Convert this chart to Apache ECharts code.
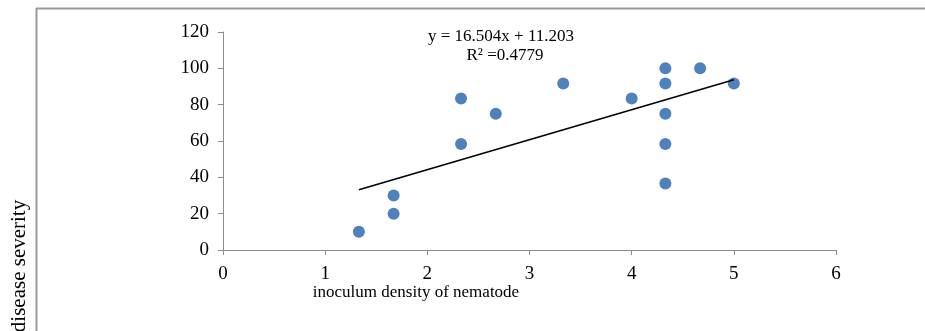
<!DOCTYPE html>
<html>
<head>
<meta charset="utf-8">
<script src="https://cdn.jsdelivr.net/npm/echarts@6/dist/echarts.min.js"></script>
<style>
html,body{margin:0;padding:0;background:#fff;}
#chart{width:925px;height:331px;}
</style>
</head>
<body>
<div id="chart"></div>
<script>
// Data
var densityX = [1.33, 1.67, 1.67, 2.33, 2.33, 2.67, 3.33, 4, 4.33, 4.33, 4.33, 4.33, 4.33, 4.67, 5];
var severityY = [10, 30, 20, 83.33, 58.33, 75, 91.67, 83.33, 100, 91.67, 75, 58.33, 36.67, 100, 91.67];
var xTicks = [0, 1, 2, 3, 4, 5, 6];
var yTicks = [0, 20, 40, 60, 80, 100, 120];
var trendSlope = 16.504;
var trendIntercept = 11.203;
var equationText = 'y = 16.504x + 11.203';
var r2Text = 'R² =0.4779';
var xAxisName = 'inoculum density of nematode';
var yAxisName = 'disease severity';

var points = densityX.map(function (x, i) { return [x, severityY[i]]; });
var xMin = Math.min.apply(null, densityX);
var xMax = Math.max.apply(null, densityX);
var trendLine = [[xMin, trendSlope * xMin + trendIntercept], [xMax, trendSlope * xMax + trendIntercept]];

var font = '"Liberation Serif", "Times New Roman", serif';
var axisColor = '#8c8c8c';

var chart = echarts.init(document.getElementById('chart'), null, {renderer: 'canvas'});
chart.setOption({
  animation: false,
  backgroundColor: '#fff',
  grid: {left: 223, top: 32, width: 613, height: 218, containLabel: false},
  xAxis: {
    type: 'value', min: xTicks[0], max: xTicks[xTicks.length - 1], interval: 1,
    splitLine: {show: false},
    axisLine: {show: true, onZero: false, lineStyle: {color: axisColor, width: 1}},
    axisTick: {show: true, length: 5, lineStyle: {color: axisColor}},
    axisLabel: {color: '#000', fontFamily: font, fontSize: 19, margin: 15}
  },
  yAxis: {
    type: 'value', min: yTicks[0], max: yTicks[yTicks.length - 1], interval: 20,
    splitLine: {show: false},
    axisLine: {show: true, onZero: false, lineStyle: {color: axisColor, width: 1}},
    axisTick: {show: true, length: 5, lineStyle: {color: axisColor}},
    axisLabel: {color: '#000', fontFamily: font, fontSize: 19, margin: 14}
  },
  series: [
    {
      type: 'scatter', data: points, symbolSize: 12,
      itemStyle: {color: '#4f81bd', opacity: 1}, z: 3
    },
    {
      type: 'line', data: trendLine, symbol: 'none', silent: true,
      lineStyle: {color: '#000', width: 1.6}, z: 4
    }
  ],
  graphic: [
    {type: 'line', shape: {x1: 36, y1: 8.5, x2: 925, y2: 8.5}, style: {stroke: '#9a9a9a', lineWidth: 2}},
    {type: 'line', shape: {x1: 36.5, y1: 8, x2: 36.5, y2: 331}, style: {stroke: '#9a9a9a', lineWidth: 2}},
    {type: 'text', x: 501, y: 37, style: {text: equationText, font: '17px ' + font, fill: '#000', textAlign: 'center', textVerticalAlign: 'middle'}},
    {type: 'text', x: 505, y: 56, style: {text: r2Text, font: '17px ' + font, fill: '#000', textAlign: 'center', textVerticalAlign: 'middle'}},
    {type: 'text', x: 416, y: 293, style: {text: xAxisName, font: '17px ' + font, fill: '#000', textAlign: 'center', textVerticalAlign: 'middle'}},
    {type: 'text', x: 19, y: 266, rotation: Math.PI / 2, style: {text: yAxisName, font: '21px ' + font, fill: '#000', textAlign: 'center', textVerticalAlign: 'middle'}}
  ]
});
</script>
</body>
</html>
